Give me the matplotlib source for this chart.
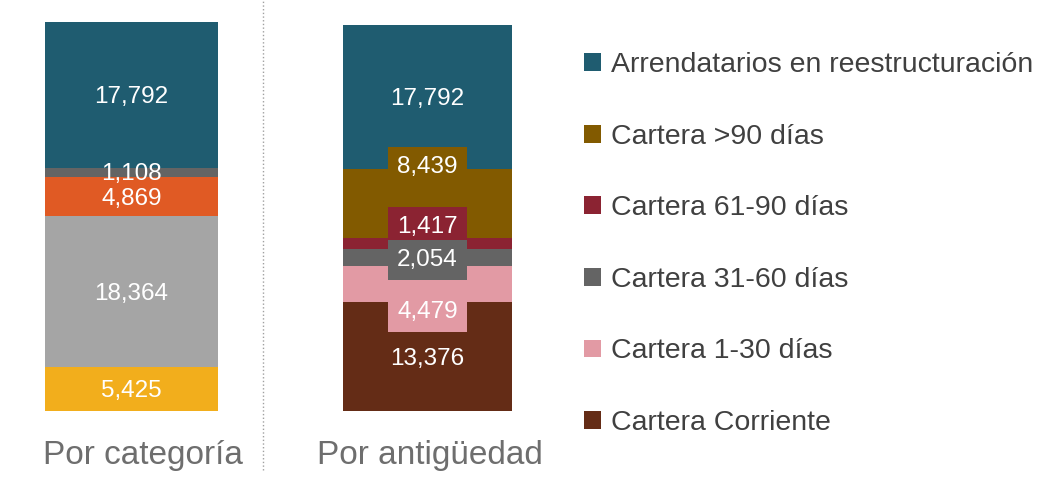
import matplotlib.pyplot as plt
from matplotlib.patches import Patch
from matplotlib.lines import Line2D

plt.rcParams['font.family'] = ['Liberation Sans', 'DejaVu Sans']

# datos (de abajo hacia arriba)
cat_values = [5425, 18364, 4869, 1108, 17792]
cat_colors = ['#F2AE1C', '#A5A5A5', '#E05A24', '#646464', '#1F5C70']

age_names = ['Cartera Corriente', 'Cartera 1-30 días', 'Cartera 31-60 días',
             'Cartera 61-90 días', 'Cartera >90 días', 'Arrendatarios en reestructuración']
age_values = [13376, 4479, 2054, 1417, 8439, 17792]
age_colors = ['#642C16', '#E29AA4', '#646464', '#8B2332', '#825A00', '#1F5C70']
# posición de la etiqueta respecto al segmento y ajuste fino (pt)
age_label_pos = ['center', 'below', 'center', 'above', 'above', 'center']
age_label_dy = [0, 1, 0, 0, -6, 0]

bar_titles = ['Por categoría', 'Por antigüedad']

W, H = 1055, 490
fig = plt.figure(figsize=(W / 100, H / 100), dpi=100)

FS = 17.5
PAD = 0.38


def px_axes(x0, x1, ytop, ybot):
    return fig.add_axes([x0 / W, (H - ybot) / H, (x1 - x0) / W, (ybot - ytop) / H])


def stacked(ax, values, colors, positions=None, shifts=None, boxed=False):
    bottom = 0
    for i, (v, c) in enumerate(zip(values, colors)):
        ax.bar(0, v, width=1, bottom=bottom, color=c)
        pos = positions[i] if positions else 'center'
        dy = shifts[i] if shifts else 0
        txt = f'{v:,}'
        box = None
        if boxed and (pos != 'center' or v < 3000):
            box = dict(boxstyle=f'square,pad={PAD}', fc=c, ec='none')
        kw = dict(ha='center', color='white', fontsize=FS, bbox=box)
        if pos == 'center':
            ax.annotate(txt, (0, bottom + v / 2), xytext=(0, -1.5),
                        textcoords='offset points', va='center', zorder=6, **kw)
        elif pos == 'above':
            ax.annotate(txt, (0, bottom + v), xytext=(0, dy),
                        textcoords='offset points', va='bottom', zorder=5, **kw)
        else:
            ax.annotate(txt, (0, bottom), xytext=(0, dy),
                        textcoords='offset points', va='top', zorder=5, **kw)
        bottom += v
    ax.set_xlim(-0.5, 0.5)
    ax.set_ylim(0, bottom)
    ax.axis('off')


ax1 = px_axes(45, 218, 22, 411)
stacked(ax1, cat_values, cat_colors)

ax2 = px_axes(343, 512, 25, 411)
stacked(ax2, age_values, age_colors, age_label_pos, age_label_dy, boxed=True)

fig.text(143 / W, 1 - 455 / H, bar_titles[0], ha='center', va='center',
         fontsize=24, color='#6E6E6E')
fig.text(430 / W, 1 - 455 / H, bar_titles[1], ha='center', va='center',
         fontsize=24, color='#6E6E6E')

# separador punteado
fig.add_artist(Line2D([263 / W, 263 / W], [1 - 470 / H, 1], transform=fig.transFigure,
                      color='#A0A0A0', lw=1, ls=':'))

handles = [Patch(facecolor=c, edgecolor='none') for c in age_colors[::-1]]
fig.legend(handles, age_names[::-1], loc='upper left', bbox_to_anchor=(570 / W, 1 - 38 / H),
           frameon=False, fontsize=20.5, labelspacing=1.6, handlelength=0.58,
           handleheight=0.58, handletextpad=0.35, labelcolor='#404040', borderpad=0)

fig.savefig('out.png', dpi=100)
